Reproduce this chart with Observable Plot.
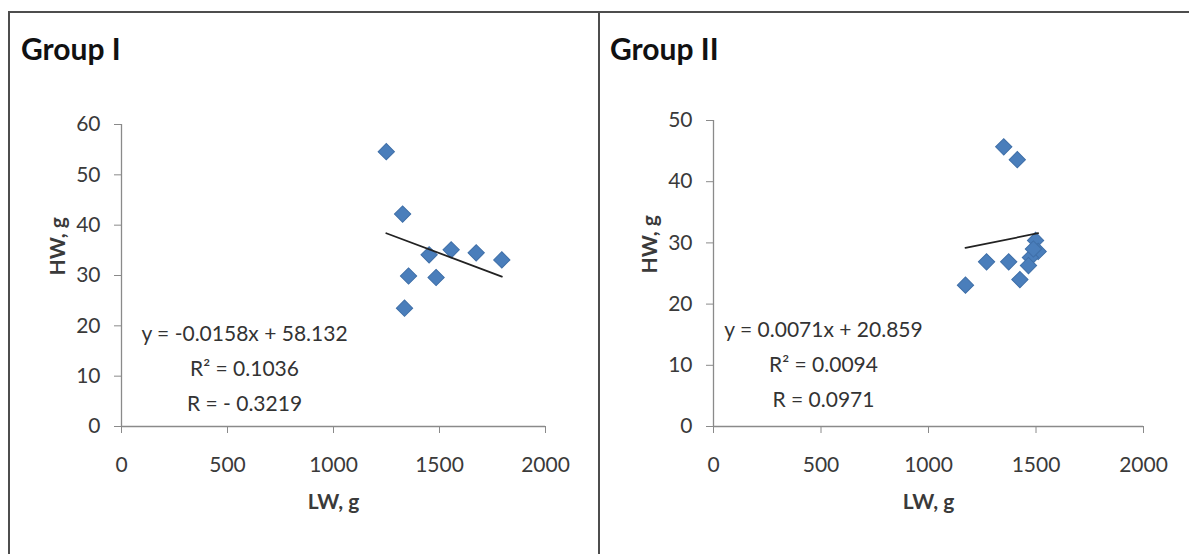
<!DOCTYPE html>
<html>
<head>
<meta charset="utf-8">
<script src="https://cdn.jsdelivr.net/npm/d3@7"></script>
<script src="https://cdn.jsdelivr.net/npm/@observablehq/plot@0.6"></script>
<style>
  html, body { margin: 0; padding: 0; background: #fff; overflow: hidden; }
  #page { position: relative; width: 1189px; height: 554px; overflow: hidden; font-family: Lato, "Open Sans", sans-serif; }
  .panel { position: absolute; border: 2px solid #4d4d4d; box-sizing: border-box; }
  .title { position: absolute; font-family: Lato, sans-serif; font-weight: 700; font-size: 30px; color: #111; line-height: 1; }
  .chart { position: absolute; top: 0; }
</style>
</head>
<body>
<div id="page"></div>
<script>
// ---- data ----
const groups = ["Group I", "Group II"];
const lwGroup1 = [1249, 1326, 1451, 1555, 1673, 1794, 1354, 1484, 1335];
const hwGroup1 = [54.6, 42.2, 34.1, 35.1, 34.5, 33.1, 29.9, 29.6, 23.5];
const lwGroup2 = [1350, 1413, 1172, 1270, 1373, 1425, 1498, 1510, 1474, 1465, 1488];
const hwGroup2 = [45.7, 43.6, 23.1, 26.9, 26.9, 24.0, 30.4, 28.6, 27.6, 26.3, 29.0];
const slopes = [-0.0158, 0.0071];
const intercepts = [58.132, 20.859];
const eqLabels = ["y = -0.0158x + 58.132", "y = 0.0071x + 20.859"];
const r2Labels = ["R\u00B2 = 0.1036", "R\u00B2 = 0.0094"];
const rLabels = ["R = - 0.3219", "R = 0.0971"];
const xTicks = [0, 500, 1000, 1500, 2000];
const yTicks1 = [0, 10, 20, 30, 40, 50, 60];
const yTicks2 = [0, 10, 20, 30, 40, 50];
const xLabel = "LW, g";
const yLabel = "HW, g";

const page = document.getElementById("page");

const layouts = [
  {left: 0, width: 598, marginLeft: 121, marginRight: 53, marginTop: 124, marginBottom: 128,
   panel: {left: 8, top: 11, width: 592, height: 600}, title: {left: 21, top: 33}, eqDx: 123, eqDy: -62},
  {left: 600, width: 589, marginLeft: 113, marginRight: 46, marginTop: 120, marginBottom: 128,
   panel: {left: 598, top: 11, width: 640, height: 600}, title: {left: 610, top: 33}, eqDx: 110, eqDy: -66}
];

function drawPanel(i, lw, hw, yTicks) {
  const L = layouts[i];
  const box = document.createElement("div");
  box.className = "panel";
  Object.assign(box.style, {left: L.panel.left + "px", top: L.panel.top + "px",
    width: L.panel.width + "px", height: L.panel.height + "px"});
  page.appendChild(box);

  const title = document.createElement("div");
  title.className = "title";
  title.textContent = groups[i];
  Object.assign(title.style, {left: L.title.left + "px", top: L.title.top + "px"});
  page.appendChild(title);

  const pts = lw.map((x, k) => ({x, y: hw[k]}));
  const [x0, x1] = d3.extent(lw);
  const trend = [x0, x1].map(x => ({x, y: slopes[i] * x + intercepts[i]}));
  const ymax = d3.max(yTicks);

  const chart = Plot.plot({
    width: L.width,
    height: 554,
    marginLeft: L.marginLeft,
    marginRight: L.marginRight,
    marginTop: L.marginTop,
    marginBottom: L.marginBottom,
    style: {background: "transparent", fontFamily: "Lato, sans-serif", fontSize: "21px", color: "#3a3a3a"},
    x: {domain: [0, 2000]},
    y: {domain: [0, ymax]},
    marks: [
      Plot.axisX({ticks: xTicks, tickSize: 7, tickPadding: 24, stroke: "#8a8a8a", fill: "#3a3a3a", label: null, tickFormat: d => String(d)}),
      Plot.axisY({ticks: yTicks, tickSize: 7, tickPadding: 14, stroke: "#8a8a8a", fill: "#3a3a3a", label: null, tickFormat: d => String(d)}),
      Plot.ruleX([0], {stroke: "#8a8a8a", strokeWidth: 1.3}),
      Plot.ruleY([0], {stroke: "#8a8a8a", strokeWidth: 1.3}),
      Plot.text([xLabel], {text: d => d, frameAnchor: "bottom", dy: 82, fontWeight: 700, fontSize: 21, fill: "#3a3a3a"}),
      Plot.text([yLabel], {text: d => d, frameAnchor: "left", dx: -63, rotate: -90, fontWeight: 700, fontSize: 21, fill: "#3a3a3a"}),
      Plot.text([eqLabels[i] + "\n" + r2Labels[i] + "\n" + rLabels[i]], {
        text: d => d, frameAnchor: "bottom-left", dx: L.eqDx, dy: L.eqDy,
        textAnchor: "middle", lineAnchor: "middle", lineHeight: 1.66, fontSize: 21, fill: "#333"}),
      Plot.dot(pts, {x: "x", y: "y", symbol: "square", rotate: 45, r: 6.5, fill: "#4a7ebb", stroke: "#3f6fa8", strokeWidth: 1}),
      Plot.line(trend, {x: "x", y: "y", stroke: "#222", strokeWidth: 1.8})
    ]
  });
  chart.classList.add("chart");
  chart.style.left = L.left + "px";
  page.appendChild(chart);
}

drawPanel(0, lwGroup1, hwGroup1, yTicks1);
drawPanel(1, lwGroup2, hwGroup2, yTicks2);
</script>
</body>
</html>
